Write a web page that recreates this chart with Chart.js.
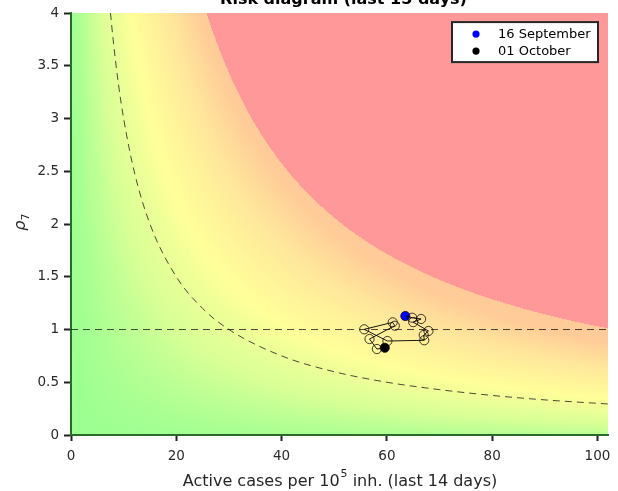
<!DOCTYPE html>
<html>
<head>
<meta charset="utf-8">
<script src="https://cdn.jsdelivr.net/npm/chart.js@4.4.0/dist/chart.umd.min.js"></script>
<style>
  html, body { margin: 0; padding: 0; background: #fff; }
  #wrap { width: 618px; height: 491px; position: relative; }
</style>
</head>
<body>
<div id="wrap"><canvas id="risk"></canvas></div>
<script>
// daily trajectory, 16 September -> 01 October
const dayCases = [63.5, 64.8, 66.5, 65.0, 67.9, 67.0, 67.1, 60.1, 55.7, 61.1, 61.5, 56.7, 58.1, 59.6];
const dayRho = [1.128, 1.112, 1.10, 1.07, 0.986, 0.948, 0.898, 0.891, 1.002, 1.068, 1.036, 0.910, 0.815, 0.827];
const firstLabel = "16 September";
const lastLabel = "01 October";

// dashed iso-risk curve
const curveCases = [7.5, 8, 9, 10, 12, 15, 20, 25, 30, 40, 50, 60, 70, 80, 90, 102];
const curveRho = [4, 3.75, 3.33, 3, 2.5, 2, 1.5, 1.2, 1, 0.75, 0.6, 0.5, 0.43, 0.375, 0.333, 0.294];

// rho = 1 reference line
const refCases = [0, 102];
const refRho = [1, 1];

const xTicks = [0, 20, 40, 60, 80, 100];
const yTicks = [0, 0.5, 1, 1.5, 2, 2.5, 3, 3.5, 4];

// background colour scale over cases * rho
const riskLevels = [0, 22, 47, 78, 103];
const riskColors = [[155, 255, 145], [215, 255, 150], [255, 255, 153], [255, 230, 155], [255, 203, 152]];
const highRisk = [255, 153, 153];

const FONT = "DejaVu Sans";

function riskColor(cases, rho) {
  const p = cases * rho;
  if (p >= 103) return highRisk;
  const v = Math.min(102.999, p + 0.12 * cases);
  for (let i = 1; i < riskLevels.length; i++) {
    if (v <= riskLevels[i]) {
      const t = (v - riskLevels[i - 1]) / (riskLevels[i] - riskLevels[i - 1]);
      const a = riskColors[i - 1], b = riskColors[i];
      return [a[0] + (b[0] - a[0]) * t, a[1] + (b[1] - a[1]) * t, a[2] + (b[2] - a[2]) * t];
    }
  }
  return riskColors[riskColors.length - 1];
}

// paints the risk map under everything, pixel by pixel through the scales
const riskBackground = {
  id: "riskBackground",
  beforeDraw(chart) {
    const { ctx, chartArea: a, scales } = chart;
    const w = Math.round(a.right - a.left), h = Math.round(a.bottom - a.top);
    const off = document.createElement("canvas");
    off.width = w; off.height = h;
    const octx = off.getContext("2d");
    const img = octx.createImageData(w, h);
    for (let j = 0; j < h; j++) {
      const rho = scales.y.getValueForPixel(a.top + j + 0.5);
      for (let i = 0; i < w; i++) {
        const cases = scales.x.getValueForPixel(a.left + i + 0.5);
        const c = riskColor(cases, rho);
        const k = (j * w + i) * 4;
        img.data[k] = c[0];
        img.data[k + 1] = c[1];
        img.data[k + 2] = c[2];
        img.data[k + 3] = 255;
      }
    }
    octx.putImageData(img, 0, 0);
    ctx.drawImage(off, a.left, a.top);
  }
};

// title, axis titles (with super/subscripts) and the boxed legend
const decorations = {
  id: "decorations",
  afterDraw(chart) {
    const { ctx, chartArea: a } = chart;
    const cx = (a.left + a.right) / 2;
    ctx.save();
    ctx.fillStyle = "#000";
    ctx.textBaseline = "alphabetic";

    ctx.font = "bold 16px '" + FONT + "'";
    ctx.textAlign = "center";
    ctx.fillText("Risk diagram (last 15 days)", cx + 4, a.top - 9);

    // x title: Active cases per 10^5 inh. (last 14 days)
    ctx.fillStyle = "#262626";
    const big = "16px '" + FONT + "'", small = "11px '" + FONT + "'";
    const p1 = "Active cases per 10", sup = "5", p2 = " inh. (last 14 days)";
    ctx.font = big;
    const w1 = ctx.measureText(p1).width, w3 = ctx.measureText(p2).width;
    ctx.font = small;
    const w2 = ctx.measureText(sup).width;
    let tx = cx - (w1 + w2 + w3) / 2;
    const ty = a.bottom + 51;
    ctx.textAlign = "left";
    ctx.font = big; ctx.fillText(p1, tx, ty); tx += w1;
    ctx.font = small; ctx.fillText(sup, tx + 1, ty - 9); tx += w2 + 1;
    ctx.font = big; ctx.fillText(p2, tx, ty);

    // y title: rho_7
    ctx.save();
    ctx.translate(a.left - 46, (a.top + a.bottom) / 2 - 2);
    ctx.rotate(-Math.PI / 2);
    ctx.font = "italic 16px '" + FONT + "'";
    const rw = ctx.measureText("\u03C1").width;
    ctx.font = "11px '" + FONT + "'";
    const sw = ctx.measureText("7").width;
    ctx.font = "italic 16px '" + FONT + "'";
    ctx.fillText("\u03C1", -(rw + sw) / 2, 0);
    ctx.font = "11px '" + FONT + "'";
    ctx.fillText("7", -(rw + sw) / 2 + rw, 4);
    ctx.restore();

    // legend box
    const bw = 146, bh = 40;
    const bx = a.right - 10 - bw, by = a.top + 9;
    ctx.fillStyle = "#fff";
    ctx.fillRect(bx, by, bw, bh);
    ctx.lineWidth = 2;
    ctx.strokeStyle = "#262626";
    ctx.strokeRect(bx, by, bw, bh);
    const entries = [[firstLabel, "#0000ff"], [lastLabel, "#000000"]];
    ctx.font = "13px '" + FONT + "'";
    entries.forEach(([label, color], i) => {
      const ey = by + 12 + i * 17;
      ctx.beginPath();
      ctx.arc(bx + 24, ey, 3.6, 0, Math.PI * 2);
      ctx.fillStyle = color;
      ctx.fill();
      ctx.fillStyle = "#000";
      ctx.textBaseline = "middle";
      ctx.fillText(label, bx + 46, ey + 1);
    });
    ctx.restore();
  }
};

const toPoints = (xs, ys) => xs.map((v, i) => ({ x: v, y: ys[i] }));
const last = dayCases.length - 1;

new Chart(document.getElementById("risk"), {
  type: "scatter",
  data: {
    datasets: [
      {
        label: "threshold",
        data: toPoints(curveCases, curveRho),
        showLine: true,
        pointRadius: 0,
        borderColor: "rgba(20,20,20,0.85)",
        borderWidth: 0.9,
        borderDash: [7, 5],
        cubicInterpolationMode: "monotone",
      },
      {
        label: "rho = 1",
        data: toPoints(refCases, refRho),
        showLine: true,
        pointRadius: 0,
        borderColor: "rgba(20,20,20,0.85)",
        borderWidth: 0.9,
        borderDash: [7, 5],
      },
      {
        label: "trajectory",
        data: toPoints(dayCases, dayRho),
        showLine: true,
        pointRadius: 4.6,
        pointBorderWidth: 0.75,
        pointBorderColor: "#000",
        pointBackgroundColor: "rgba(0,0,0,0)",
        borderColor: "#000",
        borderWidth: 0.9,
      },
      {
        label: firstLabel,
        data: [{ x: dayCases[0], y: dayRho[0] }],
        pointRadius: 4.5,
        pointBorderWidth: 0,
        pointBackgroundColor: "#0000ff",
      },
      {
        label: lastLabel,
        data: [{ x: dayCases[last], y: dayRho[last] }],
        pointRadius: 4.5,
        pointBorderWidth: 0,
        pointBackgroundColor: "#000",
      },
    ],
  },
  options: {
    responsive: true,
    maintainAspectRatio: false,
    animation: false,
    layout: { padding: { left: 0, top: 13, right: 10, bottom: 0 } },
    plugins: {
      legend: { display: false },
      tooltip: { enabled: false },
    },
    scales: {
      x: {
        type: "linear",
        min: 0,
        max: 102,
        afterFit: (s) => { s.height = 56; },
        afterBuildTicks: (s) => { s.ticks = xTicks.map((v) => ({ value: v })); },
        ticks: { color: "#2a2a2a", font: { family: FONT, size: 13.5 }, padding: 7, maxRotation: 0, callback: (v) => String(v) },
        grid: { drawOnChartArea: false, drawTicks: true, tickLength: 6, tickWidth: 2, tickColor: "#222" },
        border: { display: true, color: "#2a6a2a", width: 2 },
      },
      y: {
        type: "linear",
        min: 0,
        max: 4,
        afterFit: (s) => { s.width = 71; },
        afterBuildTicks: (s) => { s.ticks = yTicks.map((v) => ({ value: v })); },
        ticks: { color: "#2a2a2a", font: { family: FONT, size: 13.5 }, padding: 5, callback: (v) => String(v) },
        grid: { drawOnChartArea: false, drawTicks: true, tickLength: 7, tickWidth: 2, tickColor: "#222" },
        border: { display: true, color: "#2a6a2a", width: 2 },
      },
    },
  },
  plugins: [riskBackground, decorations],
});
</script>
</body>
</html>
